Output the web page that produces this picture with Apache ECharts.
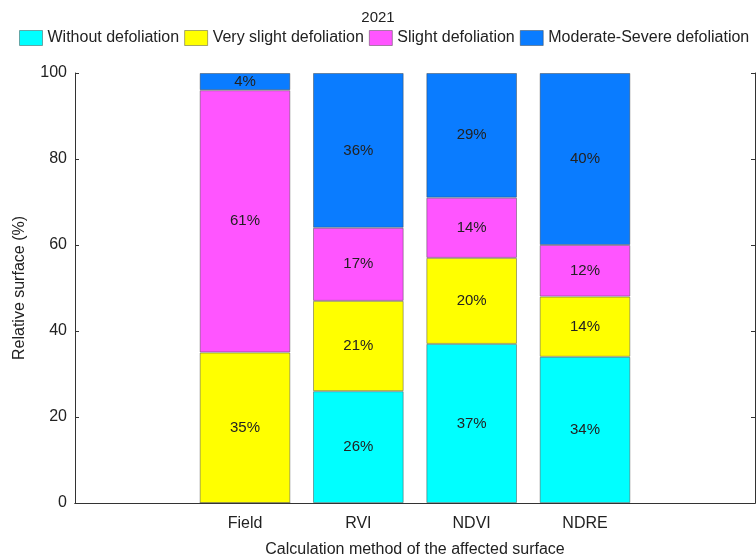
<!DOCTYPE html>
<html>
<head>
<meta charset="utf-8">
<script src="https://cdn.jsdelivr.net/npm/echarts@6/dist/echarts.min.js"></script>
<style>
  html, body { margin: 0; padding: 0; background: #fff; }
  #chart { width: 756px; height: 556px; }
</style>
</head>
<body>
<div id="chart"></div>
<script>
// categories (empty slots at both ends, as in the original)
var categories = ["", "Field", "RVI", "NDVI", "NDRE", ""];
var seriesNames = ["Without defoliation", "Very slight defoliation", "Slight defoliation", "Moderate-Severe defoliation"];
var withoutDef = [null, 0, 26, 37, 34, null];
var verySlight = [null, 35, 21, 20, 14, null];
var slight = [null, 61, 17, 14, 12, null];
var moderate = [null, 4, 36, 29, 40, null];
var yTicks = [0, 20, 40, 60, 80, 100];

var colors = ["#00ffff", "#ffff00", "#ff55ff", "#0a7cff"];
var font = "Arial, 'Liberation Sans', sans-serif";

var chart = echarts.init(document.getElementById("chart"));

function makeSeries(name, data, i) {
  return {
    name: name,
    type: "bar",
    stack: "total",
    barWidth: "80%",
    data: data,
    itemStyle: {
      color: colors[i],
      borderColor: "rgba(60,60,60,0.45)",
      borderWidth: 1
    },
    label: {
      show: true,
      position: "inside",
      color: "#222",
      fontFamily: font,
      fontSize: 15,
      formatter: function (p) {
        return p.value ? p.value + "%" : "";
      }
    }
  };
}

var option = {
  animation: false,
  title: {
    text: "2021",
    left: "center",
    top: 5,
    textStyle: { fontFamily: font, fontSize: 15, fontWeight: "normal", color: "#222" }
  },
  legend: {
    data: seriesNames,
    top: 25,
    left: 14,
    icon: "rect",
    itemWidth: 23,
    itemHeight: 15,
    itemGap: 5,
    textStyle: { fontFamily: font, fontSize: 16, color: "#222" },
    itemStyle: { borderColor: "rgba(60,60,60,0.45)", borderWidth: 1 }
  },
  grid: { left: 75, right: 1, top: 73, bottom: 53, outerBoundsMode: "none", containLabel: false },
  xAxis: [
    {
      type: "category",
      data: categories,
      name: "Calculation method of the affected surface",
      nameLocation: "middle",
      nameGap: 39,
      nameTextStyle: { fontFamily: font, fontSize: 16, color: "#222" },
      axisLine: { lineStyle: { color: "#333" } },
      axisTick: { inside: true, alignWithLabel: true, length: 4, lineStyle: { color: "#333" } },
      axisLabel: { fontFamily: font, fontSize: 16, color: "#222", margin: 13 }
    },
    {
      type: "category",
      position: "top",
      data: categories,
      axisLine: { lineStyle: { color: "#333" } },
      axisTick: { inside: true, alignWithLabel: true, length: 4, lineStyle: { color: "#333" } },
      axisLabel: { show: false }
    }
  ],
  yAxis: [
    {
      type: "value",
      min: yTicks[0],
      max: yTicks[yTicks.length - 1],
      interval: 20,
      name: "Relative surface (%)",
      nameLocation: "middle",
      nameGap: 47,
      nameTextStyle: { fontFamily: font, fontSize: 16, color: "#222" },
      splitLine: { show: false },
      axisLine: { show: true, lineStyle: { color: "#333" } },
      axisTick: { show: true, inside: true, length: 4, lineStyle: { color: "#333" } },
      axisLabel: { fontFamily: font, fontSize: 16, color: "#222", margin: 8 }
    },
    {
      type: "value",
      position: "right",
      min: yTicks[0],
      max: yTicks[yTicks.length - 1],
      interval: 20,
      splitLine: { show: false },
      axisLine: { show: true, lineStyle: { color: "#333" } },
      axisTick: { show: true, inside: true, length: 4, lineStyle: { color: "#333" } },
      axisLabel: { show: false }
    }
  ],
  series: [
    makeSeries(seriesNames[0], withoutDef, 0),
    makeSeries(seriesNames[1], verySlight, 1),
    makeSeries(seriesNames[2], slight, 2),
    makeSeries(seriesNames[3], moderate, 3)
  ]
};

chart.setOption(option);
</script>
</body>
</html>
